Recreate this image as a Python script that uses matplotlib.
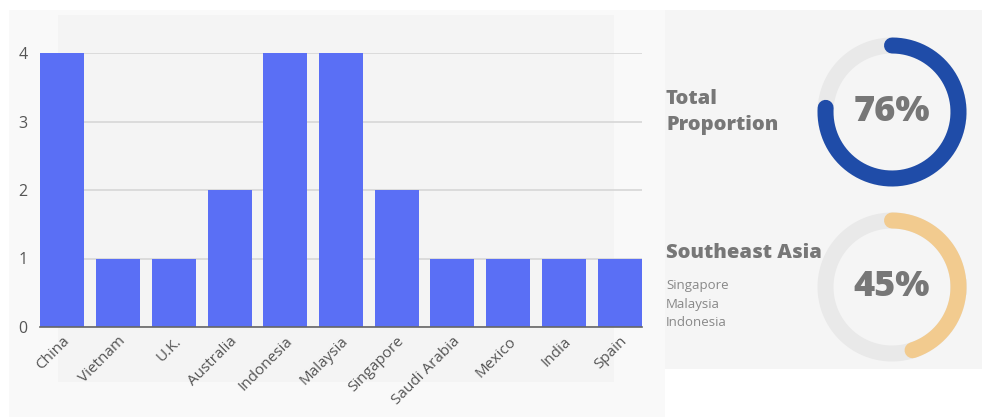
import numpy as np
import matplotlib.pyplot as plt
from matplotlib.patches import Rectangle

countries = ['China', 'Vietnam', 'U.K.', 'Australia', 'Indonesia', 'Malaysia',
             'Singapore', 'Saudi Arabia', 'Mexico', 'India', 'Spain']
counts = [4, 1, 1, 2, 4, 4, 2, 1, 1, 1, 1]

donut_titles = ['Total\nProportion', 'Southeast Asia']
donut_values = [76, 45]
donut_colors = ['#1f4ca8', '#f2cb8f']
sea_members = ['Singapore', 'Malaysia', 'Indonesia']

W, H = 982, 417
fig = plt.figure(figsize=(W / 100, H / 100), dpi=100)
fig.patch.set_facecolor('white')


def px(x, y, w, h):
    # pixel box (top-left origin) -> figure fraction
    return [x / W, 1 - (y + h) / H, w / W, h / H]


# panel backgrounds
for (x, y, w, h), c in [((9, 10, 656, 407), '#f9f9f9'),
                        ((58, 15, 556, 367), '#f4f4f4'),
                        ((665, 10, 317, 359), '#f5f5f5')]:
    b = px(x, y, w, h)
    fig.add_artist(Rectangle((b[0], b[1]), b[2], b[3], transform=fig.transFigure,
                             facecolor=c, edgecolor='none', zorder=0))

# bar chart
ax = fig.add_axes(px(40, 53, 602, 274))
ax.set_facecolor('none')
xpos = np.arange(len(countries))
ax.bar(xpos, counts, width=0.79, color='#5a6ff5', zorder=3)
ax.set_xlim(-0.4, len(countries) - 0.6)
ax.set_ylim(0, 4)
ax.set_yticks([0, 1, 2, 3, 4])
ax.yaxis.grid(True, color='#d9d9d9', linewidth=1.3, zorder=0)
ax.set_xticks(xpos)
ax.set_xticklabels(countries, rotation=45, ha='right', rotation_mode='anchor',
                   fontsize=11, color='#555555', family='Open Sans')
for lbl in ax.get_yticklabels():
    lbl.set_fontsize(11.5)
    lbl.set_color('#555555')
    lbl.set_family('Open Sans')
ax.tick_params(axis='x', length=0, pad=5)
ax.tick_params(axis='y', length=0, pad=9)
for s in ['top', 'right', 'left']:
    ax.spines[s].set_visible(False)
ax.spines['bottom'].set_color('#666666')
ax.spines['bottom'].set_linewidth(1.2)
ax.spines['bottom'].set_zorder(4)

# donuts
centers = [(892, 112), (892, 287)]
r = 66.5
lw = 16 * 72 / 100
for (cx, cy), val, col in zip(centers, donut_values, donut_colors):
    dax = fig.add_axes(px(cx - 80, cy - 80, 160, 160))
    dax.set_xlim(-80, 80)
    dax.set_ylim(-80, 80)
    dax.axis('off')
    t = np.linspace(0, 2 * np.pi, 300)
    dax.plot(r * np.cos(t), r * np.sin(t), color='#e9e9e9', lw=lw)
    th = np.pi / 2 - np.linspace(0, 2 * np.pi * val / 100, 300)
    dax.plot(r * np.cos(th), r * np.sin(th), color=col, lw=lw,
             solid_capstyle='round')
    dax.text(0, 0, f'{val}%', ha='center', va='center', fontsize=26,
             fontweight=800, color='#777777', family='Open Sans')

fig.text(666 / W, 1 - 112 / H, donut_titles[0], ha='left', va='center',
         fontsize=14.5, fontweight=800, color='#777777', family='Open Sans',
         linespacing=1.4)
fig.text(666 / W, 1 - 253 / H, donut_titles[1], ha='left', va='center',
         fontsize=14.5, fontweight=800, color='#777777', family='Open Sans')
for i, name in enumerate(sea_members):
    fig.text(666 / W, 1 - (286 + i * 18.5) / H, name, ha='left', va='center',
             fontsize=9.5, color='#888888', family='Open Sans')

fig.savefig('out.png', dpi=100, facecolor='white')
